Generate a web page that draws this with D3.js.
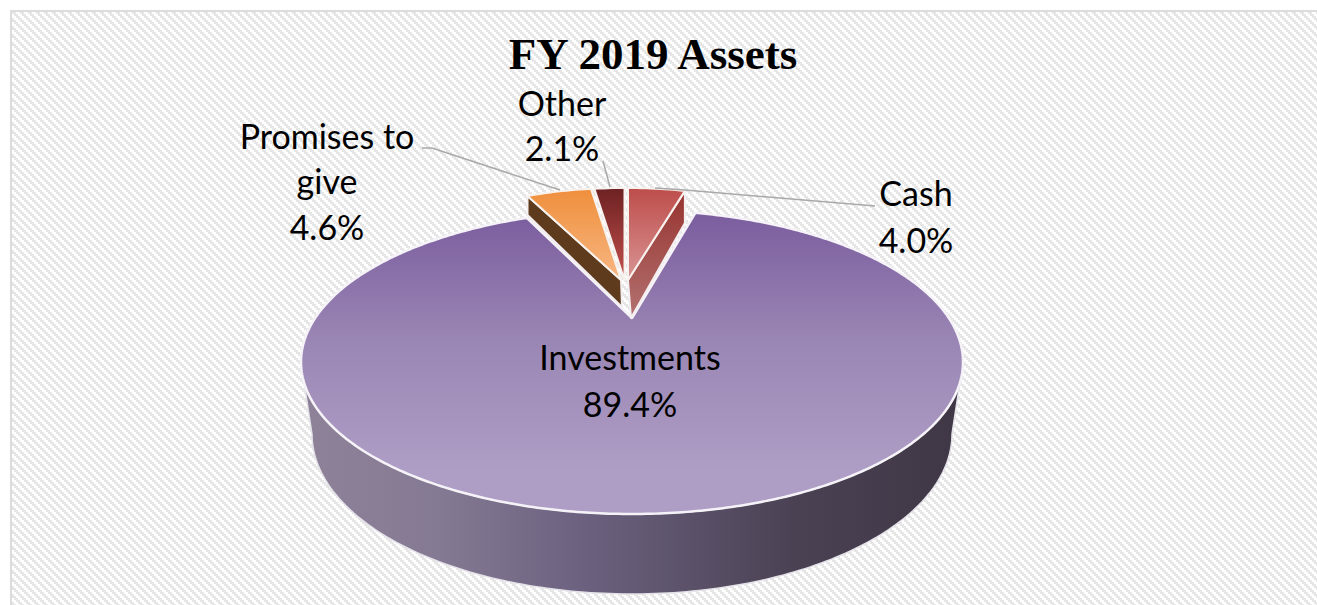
<!DOCTYPE html>
<html>
<head>
<meta charset="utf-8">
<script src="https://cdnjs.cloudflare.com/ajax/libs/d3/7.8.5/d3.min.js"></script>
<style>
  html, body { margin: 0; padding: 0; background: #fff; overflow: hidden; }
  svg { display: block; }
  .label { font-family: Lato, sans-serif; font-size: 34px; fill: #000; text-anchor: middle; }
  .title { font-family: "Liberation Serif", serif; font-weight: bold; font-size: 45px; fill: #000; text-anchor: middle; }
  .leader { fill: none; stroke: #a9a9a9; stroke-width: 1.5; }
</style>
</head>
<body>
<svg width="1317" height="605"></svg>
<script>
const categories = ['Cash', 'Investments', 'Promises to give', 'Other'];
const shares = [4.0, 89.4, 4.6, 2.1];
const chartTitle = 'FY 2019 Assets';

const width = 1317;
const height = 605;
const svg = d3.select('svg');
const defs = svg.append('defs');

// hatch background, staircase of 2px steps
const hatch = defs.append('pattern')
  .attr('id', 'hatch')
  .attr('patternUnits', 'userSpaceOnUse')
  .attr('width', 8)
  .attr('height', 8);
hatch.selectAll('rect')
  .data(d3.range(0, 8, 2).flatMap(y => [{x: y, y: y}, {x: y - 8, y: y}]))
  .enter().append('rect')
  .attr('x', d => d.x)
  .attr('y', d => d.y)
  .attr('width', 4)
  .attr('height', 2)
  .attr('fill', '#e6e6e6');

svg.append('rect')
  .attr('x', 11)
  .attr('y', 11)
  .attr('width', width)
  .attr('height', height)
  .attr('fill', 'url(#hatch)')
  .attr('stroke', '#dcdcdc')
  .attr('stroke-width', 2);

function gradient(id, horizontal, a, b, stops) {
  const g = defs.append('linearGradient')
    .attr('id', id)
    .attr('gradientUnits', 'userSpaceOnUse')
    .attr('x1', horizontal ? a : 0)
    .attr('x2', horizontal ? b : 0)
    .attr('y1', horizontal ? 0 : a)
    .attr('y2', horizontal ? 0 : b);
  stops.forEach(s => g.append('stop').attr('offset', s[0]).attr('stop-color', s[1]));
}
gradient('mainTop', false, 210, 470, [[0, '#7a5c9e'], [0.5, '#9a86b4'], [1, '#ae9dc5']]);
gradient('mainWall', true, 305, 960, [[0, '#8e8299'], [0.2, '#857a93'], [0.42, '#6c6280'], [0.75, '#4a4153'], [1, '#3f3745']]);
gradient('cashTop', false, 188, 280, [[0, '#bd4d4b'], [1, '#d99494']]);
gradient('cashWall', false, 192, 318, [[0, '#97332f'], [1, '#b37271']]);
gradient('promisesTop', false, 188, 280, [[0, '#ef8f3c'], [1, '#f7b682']]);
gradient('otherTop', false, 188, 280, [[0, '#6d2122'], [1, '#c4514e']]);

// the pie layout gives the clockwise angle of every slice
const pie = d3.pie().sort(null).value(d => d.share);
const slices = pie(categories.map((c, i) => ({name: c, share: shares[i]})));

// top face of the big slice and its wall base
const topEllipse = {cx: 632, cy: 362, rx: 331, ry: 152};
const baseEllipse = {cx: 632, cy: 434, rx: 320, ry: 160};
const mainApex = [632, 318];
const tilt = 2.35;

// where a ray from the apex hits the ellipse
function rimPoint(angle) {
  const dx = tilt * Math.sin(angle);
  const dy = -Math.cos(angle);
  const ox = (mainApex[0] - topEllipse.cx) / topEllipse.rx;
  const oy = (mainApex[1] - topEllipse.cy) / topEllipse.ry;
  const ux = dx / topEllipse.rx;
  const uy = dy / topEllipse.ry;
  const a = ux * ux + uy * uy;
  const b = 2 * (ox * ux + oy * uy);
  const c = ox * ox + oy * oy - 1;
  const t = (-b + Math.sqrt(b * b - 4 * a * c)) / (2 * a);
  return [mainApex[0] + t * dx, mainApex[1] + t * dy];
}

const line = d3.line();
const main = slices[1];
const sweep = d3.range(main.startAngle, main.endAngle, 0.01).concat(main.endAngle);

// wall: lower half of the top ellipse and of the base ellipse
const halfTurn = d3.range(0, Math.PI + 0.01, 0.02);
const onEllipse = (e, t) => [e.cx + e.rx * Math.cos(t), e.cy + e.ry * Math.sin(t)];
svg.append('path')
  .attr('d', line(halfTurn.map(t => onEllipse(topEllipse, t))
    .concat(halfTurn.slice().reverse().map(t => onEllipse(baseEllipse, t)))) + 'Z')
  .attr('fill', 'url(#mainWall)')
  .attr('stroke', '#e4e2e8')
  .attr('stroke-width', 1.5);

svg.append('path')
  .attr('d', line([mainApex].concat(sweep.map(rimPoint))) + 'Z')
  .attr('fill', 'url(#mainTop)')
  .attr('stroke', '#f6f3f8')
  .attr('stroke-width', 2.5)
  .attr('stroke-linejoin', 'round');

// small exploded slices
const small = {rx: 229, ry: 92, cy: 280};
const smallCx = {Cash: 628, 'Promises to give': 621, Other: 624.5};
const smallFill = {Cash: 'url(#cashTop)', 'Promises to give': 'url(#promisesTop)', Other: 'url(#otherTop)'};
const wedge = slices.filter(s => s !== main);

function smallPoint(s, angle) {
  return [smallCx[s.data.name] + small.rx * Math.sin(angle), small.cy - small.ry * Math.cos(angle)];
}

// walls of the two slices whose cut side faces the viewer
const walls = [
  {slice: slices[0], angle: slices[0].endAngle, tip: [3, 38], rimDrop: 32, fill: 'url(#cashWall)'},
  {slice: slices[2], angle: slices[2].startAngle, tip: [1, 27], rimDrop: 19, fill: '#5f3b1d'}
];
svg.selectAll('.wall')
  .data(walls)
  .enter().append('path')
  .attr('class', 'wall')
  .attr('d', w => {
    const apex = [smallCx[w.slice.data.name], small.cy];
    const rim = smallPoint(w.slice, w.angle);
    return line([rim, apex, [apex[0] + w.tip[0], apex[1] + w.tip[1]], [rim[0], rim[1] + w.rimDrop]]) + 'Z';
  })
  .attr('fill', w => w.fill)
  .attr('stroke', '#f3eef0')
  .attr('stroke-width', 2)
  .attr('stroke-linejoin', 'round');

svg.selectAll('.slice')
  .data(wedge)
  .enter().append('path')
  .attr('class', 'slice')
  .attr('d', s => {
    const cx = smallCx[s.data.name];
    // d3.pie angles run past pi for the last slices, sin and cos do not care
    const steps = d3.range(s.startAngle, s.endAngle, 0.02).concat(s.endAngle);
    return line([[cx, small.cy]].concat(steps.map(a => smallPoint(s, a)))) + 'Z';
  })
  .attr('fill', s => smallFill[s.data.name])
  .attr('stroke', '#f8f2ee')
  .attr('stroke-width', 2)
  .attr('stroke-linejoin', 'round');

// leader lines
const leaders = [
  [[655, 188], [685, 190], [875, 206]],
  [[422, 148], [432, 148], [560, 190]],
  [[603, 161], [610, 187]]
];
svg.selectAll('.leader')
  .data(leaders)
  .enter().append('path')
  .attr('class', 'leader')
  .attr('d', line);

// labels, one text per line
const pct = d3.format('.1f');
const labelSpots = [
  {lines: ['Cash', pct(shares[0]) + '%'], x: 916, y: [206, 253]},
  {lines: ['Investments', pct(shares[1]) + '%'], x: 630, y: [370, 417]},
  {lines: ['Promises to', 'give', pct(shares[2]) + '%'], x: 327, y: [149, 194, 240]},
  {lines: ['Other', pct(shares[3]) + '%'], x: 562, y: [116, 161]}
];
labelSpots.forEach(l => {
  svg.selectAll(null)
    .data(l.lines)
    .enter().append('text')
    .attr('class', 'label')
    .attr('x', l.x)
    .attr('y', (d, i) => l.y[i])
    .text(d => d);
});

svg.append('text')
  .attr('class', 'title')
  .attr('x', 653)
  .attr('y', 69)
  .text(chartTitle);
</script>
</body>
</html>
